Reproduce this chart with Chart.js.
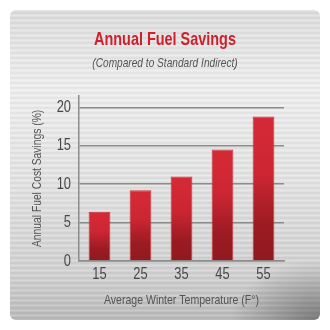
<!DOCTYPE html>
<html>
<head>
<meta charset="utf-8">
<script src="https://cdn.jsdelivr.net/npm/chart.js@4"></script>
<style>
  html, body { margin: 0; padding: 0; background: #fff; }
  #wrap { position: relative; width: 330px; height: 330px; }
  #panel {
    position: absolute; left: 10px; top: 10px; width: 310px; height: 310px;
    border-radius: 6px;
    background:
      radial-gradient(ellipse 90px 60px at 100% 100%, rgba(70,70,70,0.55), rgba(70,70,70,0) 100%),
      repeating-linear-gradient(180deg, rgba(255,255,255,0.18) 0px, rgba(255,255,255,0.18) 1px, rgba(0,0,0,0.03) 2px, rgba(0,0,0,0.05) 3px, rgba(255,255,255,0.08) 5px),
      linear-gradient(180deg, #dedede 0%, #f0f0f0 25%, #e4e4e4 55%, #d2d2d2 85%, #bababa 100%);
  }
  canvas { position: absolute; left: 0; top: 0; }
</style>
</head>
<body>
<div id="wrap">
  <div id="panel"></div>
  <canvas id="myChart" width="330" height="330"></canvas>
</div>
<script>
const categories = ['15', '25', '35', '45', '55'];
const savings = [6.4, 9.2, 11.0, 14.5, 18.8];
const yTicks = [0, 5, 10, 15, 20];

const FONT = "'Liberation Sans', Arial, sans-serif";
const CONDENSE = 0.78;

function barGradient(context) {
    const chart = context.chart;
    if (!chart.chartArea || context.raw === undefined) return '#c8232e';
    const y = chart.scales.y;
    const top = y.getPixelForValue(context.raw);
    const bottom = y.getPixelForValue(0);
    const g = chart.ctx.createLinearGradient(0, top, 0, bottom);
    g.addColorStop(0, '#d52a36');
    g.addColorStop(0.4, '#cc2632');
    g.addColorStop(0.75, '#9c1b22');
    g.addColorStop(1, '#8e1a1f');
    return g;
}

const ctx = document.getElementById('myChart').getContext('2d');

// the reference uses a condensed face, so squeeze the glyphs horizontally
const origFillText = CanvasRenderingContext2D.prototype.fillText;
ctx.fillText = function (text, x, y) {
    this.save();
    this.translate(x, y);
    this.scale(CONDENSE, 1);
    origFillText.call(this, text, 0, 0);
    this.restore();
};

const myChart = new Chart(ctx, {
    type: 'bar',
    data: {
        labels: categories,
        datasets: [{
            label: 'Savings',
            data: savings,
            backgroundColor: barGradient,
            borderColor: '#c83038',
            borderWidth: 1,
            barPercentage: 0.53,
            categoryPercentage: 1
        }]
    },
    options: {
        responsive: false,
        animation: false,
        layout: { padding: { top: 29, left: 29, right: 29, bottom: 22 } },
        scales: {
            y: {
                min: 0,
                max: 21.5,
                afterBuildTicks: (scale) => { scale.ticks = yTicks.map(v => ({ value: v })); },
                afterFit: (scale) => { scale.width = 50; },
                grid: { color: '#8c8c8c', lineWidth: 1.5, drawTicks: false },
                border: { display: true, color: '#8c8c8c', width: 1.5 },
                ticks: { padding: 8, color: '#484848', font: { family: FONT, size: 16.5 } },
                title: {
                    display: true,
                    text: 'Annual Fuel Cost Savings (%)',
                    color: '#555',
                    font: { family: FONT, size: 13.2 },
                    padding: 0
                }
            },
            // empty spacer on the right so the titles sit centred on the panel
            yRight: {
                position: 'right',
                axis: 'y',
                afterFit: (scale) => { scale.width = 17; },
                grid: { display: false, drawTicks: false },
                border: { display: false },
                ticks: { display: false }
            },
            x: {
                afterFit: (scale) => { scale.height = 47; },
                grid: { display: false, drawTicks: false },
                border: { display: true, color: '#8c8c8c', width: 1.5 },
                ticks: { padding: 4, color: '#484848', font: { family: FONT, size: 16.5 } },
                title: {
                    display: true,
                    text: 'Average Winter Temperature (F°)',
                    color: '#555',
                    font: { family: FONT, size: 13.5 },
                    padding: 0
                }
            }
        },
        plugins: {
            legend: { display: false },
            tooltip: { enabled: false },
            title: {
                display: true,
                text: 'Annual Fuel Savings',
                color: '#d11f2c',
                font: { family: FONT, size: 18.5, weight: 'bold' },
                padding: { top: 0, bottom: 4 }
            },
            subtitle: {
                display: true,
                text: '(Compared to Standard Indirect)',
                color: '#555',
                font: { family: FONT, size: 13, style: 'italic' },
                padding: { top: 0, bottom: 25 }
            }
        }
    }
});
</script>
</body>
</html>
